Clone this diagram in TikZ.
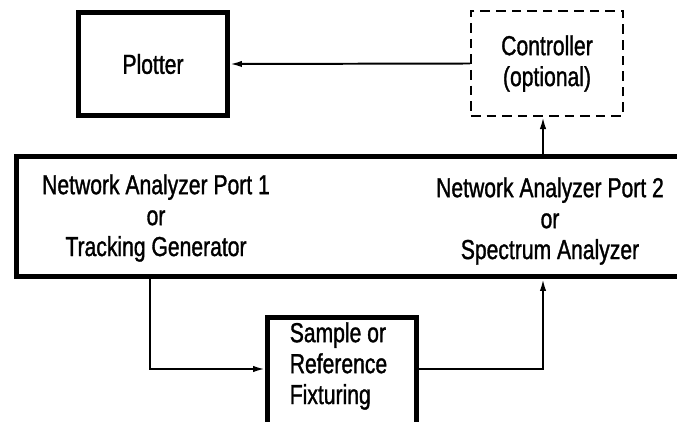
\documentclass[tikz,border=0pt]{standalone}
\usepackage{fontspec}
\setmainfont[FakeStretch=0.77, FakeBold=1.2]{Liberation Sans}
\usepackage{tikz}
\usetikzlibrary{arrows.meta, positioning}
\tikzset{
    blockbox/.style={draw, rectangle, line width=3.5pt, inner sep=0pt, align=center},
    optbox/.style={draw, rectangle, line width=1.4pt, dash pattern=on 2.4mm off 1.5mm, inner sep=0pt, align=center},
    labeltext/.style={align=center, inner sep=0pt},
    sigarrow/.style={-{Latex[length=3mm, width=1.6mm]}, line width=1.4pt},
}

\begin{document}
\begin{tikzpicture}[x=0.025cm, y=-0.025cm, every node/.style={font=\fontsize{19.5}{22}\selectfont}]
    \useasboundingbox (0,0) rectangle (677,421);
    \clip (0,0) rectangle (677,421);

    % boxes
    \node[blockbox, minimum width=3.725cm, minimum height=2.575cm] (plotter) at (153,64) {Plotter};
    \node[optbox, minimum width=3.8cm, minimum height=2.625cm] (ctrl) at (547,63.5)
          {Controller\\(optional)};
    \node[blockbox, minimum width=17.5875cm, minimum height=3cm] (analyzer) at (368.25,216.5) {};
    \node[blockbox, minimum width=3.725cm, minimum height=3.3125cm] (fixture) at (342,383.75) {};

    % texts
    \node[labeltext] (port1) at (156,218) {Network Analyzer Port 1\\or\\Tracking Generator};
    \node[labeltext] (port2) at (550,221) {Network Analyzer Port 2\\or\\Spectrum Analyzer};
    \node[labeltext, align=left] (fixtxt) at (338.5,366) {Sample or\\Reference\\Fixturing};

    % signal paths
    \coordinate (out1) at (150,369);
    \coordinate (in2) at (543,369);
    \draw[sigarrow] (ctrl.west) -- (plotter.east);
    \draw[sigarrow] (analyzer.north -| in2) -- (ctrl.south -| in2);
    \draw[sigarrow] (analyzer.south -| out1) -- (out1) -- (fixture.west |- out1);
    \draw[sigarrow] (fixture.east |- in2) -- (in2) -- (analyzer.south -| in2);
\end{tikzpicture}
\end{document}
